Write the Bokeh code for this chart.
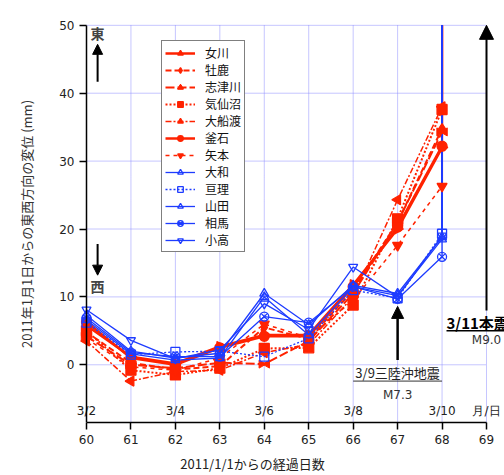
import math
from bokeh.plotting import figure
from bokeh.models import (Range1d, FixedTicker, Legend, LegendItem, Label, Arrow,
                          NormalHead, ColumnDataSource, LinearAxis)
from bokeh.embed import file_html
from bokeh.resources import INLINE

# ---------------- data ----------------
days = [60, 61, 62, 63, 64, 65, 66, 67, 68]
x_ticks = [60, 61, 62, 63, 64, 65, 66, 67, 68, 69]
y_ticks = [0, 10, 20, 30, 40, 50]
date_ticks = [60, 62, 64, 66, 68, 69]
date_labels = ["3/2", "3/4", "3/6", "3/8", "3/10", "月/日"]

onagawa     = [5.8, 1.2, 0.2, 2.7, 4.4, 4.4, 11.8, 20.0, 32.0]
oshika      = [4.8, 0.3, -0.7, -0.2, 5.5, 3.8, 11.0, 21.0, 34.8]
shizugawa   = [4.2, 0.0, -0.5, 0.3, 0.1, 3.5, 10.5, 21.0, 34.3]
kesennuma   = [5.0, -0.8, -1.5, -0.5, 2.4, 2.5, 8.8, 21.5, 37.6]
ofunato     = [3.5, -2.4, -1.0, -0.8, 1.8, 3.0, 10.0, 24.3, 38.0]
kamaishi    = [6.3, 1.0, 0.0, 2.5, 4.2, 4.2, 11.5, 20.3, 32.2]
yamoto      = [3.8, -0.3, -0.8, 1.0, 6.0, 4.0, 9.5, 17.6, 26.3]
yamato      = [7.3, 2.0, 1.0, 1.7, 10.5, 5.9, 11.7, 10.5, 18.8]
watari      = [6.2, 1.5, 1.9, 2.0, 1.2, 3.9, 11.0, 9.8, 19.3]
yamada      = [6.6, 1.6, 0.7, 1.0, 10.0, 4.4, 11.5, 10.2, 18.5]
soma        = [6.9, 1.8, 1.2, 1.2, 7.1, 6.2, 11.5, 9.7, 15.9]
odaka       = [8.1, 3.6, 0.9, 2.2, 9.0, 5.2, 14.4, 10.0, 19.0]

y_min, y_max = -8.5, 50
x_min, x_max = 60, 69

RED = "#ff2200"
BLUE = "#1e3cff"
CJK = "Noto Sans CJK JP"
NUM = "DejaVu Sans"
GRID = "#8c8cff"

# name, values, color, dash, marker, angle, filled, line_width
series = [
    ("女川", onagawa, RED, "solid", "triangle", -math.pi / 2, True, 2.5),
    ("牡鹿", oshika, RED, "6 3", "diamond", 0.0, True, 2.0),
    ("志津川", shizugawa, RED, "9 3", "bowtie", 0.0, True, 2.0),
    ("気仙沼", kesennuma, RED, "2 2", "square", 0.0, True, 2.0),
    ("大船渡", ofunato, RED, "6 2 2 2", "triangle", math.pi / 2, True, 1.5),
    ("釜石", kamaishi, RED, "solid", "circle", 0.0, True, 2.5),
    ("矢本", yamoto, RED, "4 4", "inverted_triangle", 0.0, True, 1.5),
    ("大和", yamato, BLUE, "solid", "triangle", 0.0, False, 1.3),
    ("亘理", watari, BLUE, "2 2", "square", 0.0, False, 1.3),
    ("山田", yamada, BLUE, "solid", "triangle", 0.0, False, 1.3),
    ("相馬", soma, BLUE, "solid", "circle_x", 0.0, False, 1.3),
    ("小高", odaka, BLUE, "solid", "inverted_triangle", 0.0, False, 1.3),
]

# The data window 60..69 x -8.5..50 covers 400x400 px; the frame is widened to the
# whole canvas (except the bottom axis) so side notes are not clipped.
p = figure(width=504, height=475, output_backend="svg", toolbar_location=None,
           x_range=Range1d(58.065, 69.405), y_range=Range1d(y_min, 53.656),
           min_border_left=0, min_border_top=0, min_border_right=0,
           min_border_bottom=50)
p.outline_line_color = None
p.background_fill_color = "white"
p.border_fill_color = "white"

xa = p.below[0]
ya = p.left[0]

# grid (kept inside the data window)
p.xgrid.grid_line_color = None
p.ygrid.grid_line_color = None
gx = x_ticks[1:]
p.segment(x0=gx, y0=[y_min] * len(gx), x1=gx, y1=[y_max] * len(gx),
          line_color=GRID, line_dash="1 1", line_width=1)
p.segment(x0=[x_min] * len(y_ticks), y0=y_ticks, x1=[x_max] * len(y_ticks), y1=y_ticks,
          line_color=GRID, line_dash="1 1", line_width=1)

# axes
xa.ticker = FixedTicker(ticks=x_ticks)
ya.ticker = FixedTicker(ticks=y_ticks)
xa.bounds = (x_min, x_max)
ya.bounds = (y_min, y_max)
ya.fixed_location = x_min
for ax in (xa, ya):
    ax.axis_line_color = "black"
    ax.axis_line_width = 1.5
    ax.major_tick_line_color = "black"
    ax.major_tick_line_width = 1.5
    ax.major_tick_out = 7
    ax.major_tick_in = 0
    ax.minor_tick_line_color = None
    ax.major_label_text_font = NUM
    ax.major_label_text_font_size = "12px"
    ax.major_label_text_color = "#222222"
    ax.major_label_standoff = 5
ya.axis_label = "2011年1月1日からの東西方向の変位 (mm)"
ya.axis_label_text_font = CJK
ya.axis_label_text_font_size = "13px"
ya.axis_label_text_font_style = "normal"
ya.axis_label_text_color = "#333333"
ya.axis_label_standoff = 20
xa.axis_label = "2011/1/1からの経過日数"
xa.axis_label_text_font = CJK
xa.axis_label_text_font_size = "13px"
xa.axis_label_text_font_style = "normal"
xa.axis_label_text_color = "#222222"
xa.axis_label_standoff = 7

# date (month/day) axis drawn just above the day axis
date_axis = LinearAxis(fixed_location=-7.8, ticker=FixedTicker(ticks=date_ticks),
                       major_label_overrides={d: t for d, t in zip(date_ticks, date_labels)},
                       axis_line_color=None, major_tick_line_color=None,
                       minor_tick_line_color=None, major_tick_out=0, major_tick_in=0,
                       major_label_standoff=0, major_label_text_font=NUM,
                       major_label_text_font_size="12px",
                       major_label_text_color="#222222")
p.add_layout(date_axis, "above")

# jump lines at the main shock (off-scale)
red_last = [s[1][-1] for s in series if s[2] == RED]
blue_last = [s[1][-1] for s in series if s[2] == BLUE]
p.segment(x0=[days[-1]] * len(red_last), y0=red_last, x1=[days[-1]] * len(red_last),
          y1=[y_max] * len(red_last), line_color=RED, line_width=2)
p.segment(x0=[days[-1]] * len(blue_last), y0=blue_last, x1=[days[-1]] * len(blue_last),
          y1=[y_max] * len(blue_last), line_color=BLUE, line_width=1.3)

items = []
for name, vals, col, dash, marker, ang, filled, lw in series:
    src = ColumnDataSource(dict(x=days, y=vals))
    rs = [p.line("x", "y", source=src, line_color=col, line_dash=dash, line_width=lw)]
    fill = col if filled else None
    if marker == "bowtie":
        d = 0.065
        s1 = ColumnDataSource(dict(x=[v - d for v in days], y=vals))
        s2 = ColumnDataSource(dict(x=[v + d for v in days], y=vals))
        rs.append(p.scatter("x", "y", source=s1, marker="triangle", angle=-math.pi / 2,
                            size=8, line_color=col, fill_color=col))
        rs.append(p.scatter("x", "y", source=s2, marker="triangle", angle=math.pi / 2,
                            size=8, line_color=col, fill_color=col))
    else:
        size = 10 if filled else 9
        rs.append(p.scatter("x", "y", source=src, marker=marker, angle=ang, size=size,
                            line_color=col, fill_color=fill, line_width=1.3))
    items.append(LegendItem(label=name, renderers=rs))

legend = Legend(items=items, location=(161, 170))
legend.border_line_color = "black"
legend.border_line_width = 1
legend.background_fill_color = "white"
legend.background_fill_alpha = 1
legend.label_text_font = CJK
legend.label_text_font_size = "12px"
legend.label_text_line_height = 1.0
legend.label_text_color = "#111111"
legend.glyph_width = 30
legend.glyph_height = 14
legend.label_height = 14
legend.spacing = 0
legend.padding = 3
legend.margin = 0
legend.label_standoff = 10
p.add_layout(legend)

# 東 / 西 indicators
p.add_layout(Label(x=60.25, y=48.9, text="東", text_font=CJK, text_font_size="14px",
                   text_font_style="bold", text_align="center", text_baseline="middle"))
p.add_layout(Arrow(x_start=60.25, y_start=41.7, x_end=60.25, y_end=47.2, line_width=2,
                   end=NormalHead(size=10, fill_color="black", line_color="black")))
p.add_layout(Arrow(x_start=60.25, y_start=17.8, x_end=60.25, y_end=13.2, line_width=2,
                   end=NormalHead(size=10, fill_color="black", line_color="black")))
p.add_layout(Label(x=60.25, y=11.6, text="西", text_font=CJK, text_font_size="14px",
                   text_font_style="bold", text_align="center", text_baseline="middle"))

# 3/9 foreshock
p.add_layout(Arrow(x_start=67, y_start=0.7, x_end=67, y_end=8.6, line_width=2.5,
                   end=NormalHead(size=12, fill_color="black", line_color="black")))
p.add_layout(Label(x=67, y=-1.2, text="3/9三陸沖地震", text_font=CJK, text_font_size="13px",
                   text_color="#222222", text_align="center", text_baseline="middle"))
p.add_layout(Arrow(x_start=66, y_start=-2.4, x_end=68, y_end=-2.4, line_width=1,
                   line_color="#333333", end=None))
p.add_layout(Label(x=67, y=-4.4, text="M7.3", text_font=NUM, text_font_size="12px",
                   text_color="#333333", text_align="center", text_baseline="middle"))

# 3/11 main shock
p.add_layout(Arrow(x_start=69, y_start=8.0, x_end=69, y_end=y_max, line_width=2,
                   end=NormalHead(size=14, fill_color="black", line_color="black")))
p.add_layout(Label(x=68.1, y=6.2, text="3/11本震", text_font=CJK, text_font_size="15px",
                   text_font_style="bold", text_color="black", text_align="left",
                   text_baseline="middle"))
p.add_layout(Arrow(x_start=68.1, y_start=5.0, x_end=70.5, y_end=5.0, line_width=1.5,
                   line_color="black", end=None))
p.add_layout(Label(x=69, y=3.6, text="M9.0", text_font=NUM, text_font_size="12px",
                   text_color="#333333", text_align="center", text_baseline="middle"))

open("out.html", "w").write(file_html(p, INLINE))
